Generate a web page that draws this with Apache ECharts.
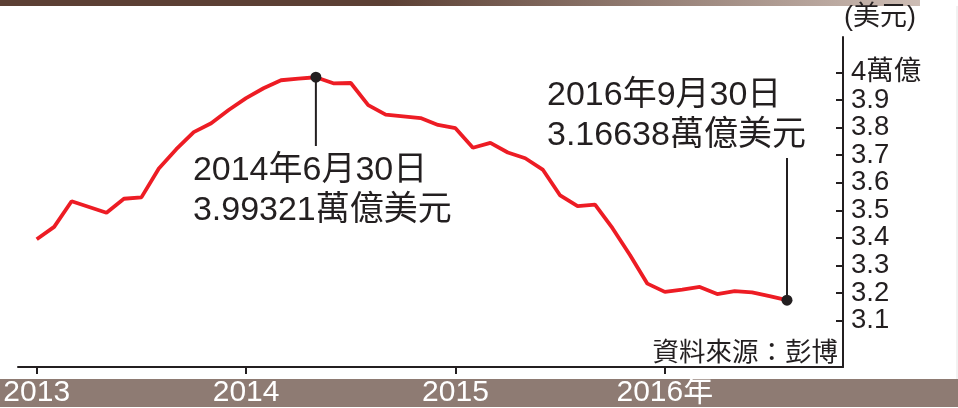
<!DOCTYPE html>
<html>
<head>
<meta charset="utf-8">
<script src="https://cdn.jsdelivr.net/npm/echarts@6/dist/echarts.min.js"></script>
<style>
  html, body { margin: 0; padding: 0; background: #fff; }
  #chart { width: 958px; height: 408px; }
</style>
</head>
<body>
<div id="chart"></div>
<script>
// month index 0 = 2013-02 ... 43 = 2016-09
var months = ['2013-02','2013-03','2013-04','2013-05','2013-06','2013-07','2013-08','2013-09','2013-10','2013-11','2013-12',
  '2014-01','2014-02','2014-03','2014-04','2014-05','2014-06','2014-07','2014-08','2014-09','2014-10','2014-11','2014-12',
  '2015-01','2015-02','2015-03','2015-04','2015-05','2015-06','2015-07','2015-08','2015-09','2015-10','2015-11','2015-12',
  '2016-01','2016-02','2016-03','2016-04','2016-05','2016-06','2016-07','2016-08','2016-09'];
var reserves = [3.395, 3.440, 3.533, 3.512, 3.491, 3.542, 3.547, 3.652, 3.722, 3.784, 3.816,
  3.864, 3.907, 3.943, 3.972, 3.978, 3.983, 3.961, 3.962, 3.882, 3.847, 3.841,
  3.835, 3.810, 3.798, 3.727, 3.745, 3.710, 3.689, 3.648, 3.554, 3.515, 3.521,
  3.435, 3.338, 3.234, 3.204, 3.212, 3.222, 3.196, 3.207, 3.202, 3.189, 3.174];
var yearTicks = [0, 12, 24, 36];
var yearLabels = ['2013', '2014', '2015', '2016年'];
var yTicks = [3.1, 3.2, 3.3, 3.4, 3.5, 3.6, 3.7, 3.8, 3.9, 4.0];
var noteIdx = [16, 43];
var noteDates = ['2014年6月30日', '2016年9月30日'];
var noteValues = ['3.99321萬億美元', '3.16638萬億美元'];

var FONT = "'Liberation Sans', 'Noto Sans CJK TC', sans-serif";
var INK = '#231f20';

var myChart = echarts.init(document.getElementById('chart'));

var option = {
    animation: false,
    backgroundColor: '#fff',
    grid: { left: 18, right: 115, top: 37, bottom: 37 },
    xAxis: {
        type: 'value',
        min: -1.072,
        max: 46.21,
        z: 10,
        axisLine: { onZero: false, lineStyle: { color: INK, width: 2 } },
        axisTick: { length: 7, lineStyle: { color: INK, width: 2 }, customValues: yearTicks },
        axisLabel: {
            customValues: yearTicks,
            margin: 11,
            color: '#fff',
            fontSize: 30,
            fontFamily: FONT,
            formatter: function (v) {
                return yearLabels[yearTicks.indexOf(v)];
            }
        },
        splitLine: { show: false }
    },
    yAxis: {
        type: 'value',
        position: 'right',
        min: 2.9315,
        max: 4.129,
        name: '(美元)',
        nameLocation: 'end',
        nameGap: 6,
        nameTextStyle: { color: INK, fontSize: 27, fontFamily: FONT, align: 'left', verticalAlign: 'bottom', padding: [0, 0, 0, 1] },
        axisLine: { show: true, onZero: false, lineStyle: { color: INK, width: 2 } },
        axisTick: { show: true, inside: true, length: 7, lineStyle: { color: INK, width: 2 }, customValues: yTicks },
        axisLabel: {
            customValues: yTicks,
            margin: 8,
            color: INK,
            fontSize: 27.5,
            fontFamily: FONT,
            formatter: function (v) {
                return Math.abs(v - 4) < 1e-6 ? '4萬億' : v.toFixed(1);
            }
        },
        splitLine: { show: false }
    },
    series: [
        {
            name: '外匯儲備',
            type: 'line',
            symbol: 'none',
            lineStyle: { color: '#ed1c24', width: 3.8 },
            data: reserves.map(function (v, i) { return [i, v]; }),
            z: 3
        },
        {
            type: 'scatter',
            symbolSize: 11,
            itemStyle: { color: INK, opacity: 1 },
            data: noteIdx.map(function (i) { return [i, reserves[i]]; }),
            z: 5
        }
    ]
};

myChart.setOption(option);

// bars, leader lines and notes placed from the converted data points
var p0 = myChart.convertToPixel({ seriesIndex: 0 }, [noteIdx[0], reserves[noteIdx[0]]]);
var p1 = myChart.convertToPixel({ seriesIndex: 0 }, [noteIdx[1], reserves[noteIdx[1]]]);

myChart.setOption({
    graphic: [
        {
            type: 'rect', z: -5, silent: true,
            shape: { x: 0, y: 0, width: 920, height: 6 },
            style: {
                fill: new echarts.graphic.LinearGradient(0, 0, 1, 0, [
                    { offset: 0, color: '#5c4034' },
                    { offset: 0.42, color: '#5c4034' },
                    { offset: 1, color: '#cdbdb5' }
                ])
            }
        },
        {
            type: 'rect', z: -5, silent: true,
            shape: { x: 0, y: 379, width: 958, height: 28 },
            style: { fill: '#8e7b73' }
        },
        {
            type: 'line', z: -5, silent: true,
            shape: { x1: 957, y1: 6, x2: 957, y2: 379 },
            style: { stroke: '#e4e4e4', lineWidth: 1 }
        },
        {
            type: 'line', z: 4, silent: true,
            shape: { x1: p0[0], y1: p0[1], x2: p0[0], y2: 146 },
            style: { stroke: INK, lineWidth: 2 }
        },
        {
            type: 'line', z: 4, silent: true,
            shape: { x1: p1[0], y1: p1[1], x2: p1[0], y2: 158 },
            style: { stroke: INK, lineWidth: 2 }
        },
        {
            type: 'text', z: 6, silent: true,
            x: p0[0] - 123, y: 151,
            style: {
                text: noteDates[0] + '\n' + noteValues[0],
                font: '34px ' + FONT, fill: INK, lineHeight: 40,
                align: 'left', verticalAlign: 'top'
            }
        },
        {
            type: 'text', z: 6, silent: true,
            x: p1[0] - 240, y: 75.5,
            style: {
                text: noteDates[1] + '\n' + noteValues[1],
                font: '34px ' + FONT, fill: INK, lineHeight: 40,
                align: 'left', verticalAlign: 'top'
            }
        },
        {
            type: 'text', z: 6, silent: true,
            x: 838, y: 354,
            style: {
                text: '資料來源：彭博',
                font: '26.5px ' + FONT, fill: INK,
                align: 'right', verticalAlign: 'middle'
            }
        }
    ]
});
</script>
</body>
</html>
